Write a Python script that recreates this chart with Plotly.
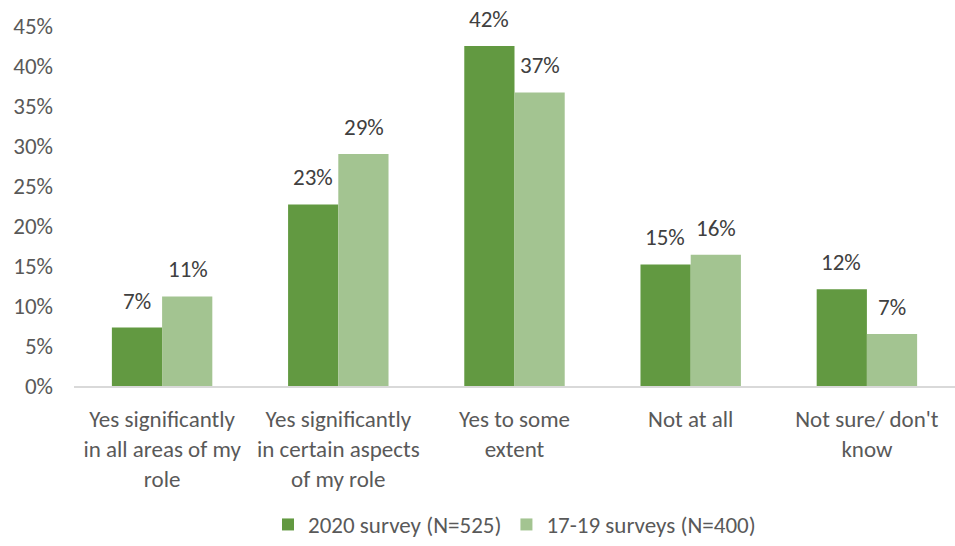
import plotly.graph_objects as go

categories = [
    "Yes significantly<br>in all areas of my<br>role",
    "Yes significantly<br>in certain aspects<br>of my role",
    "Yes to some<br>extent",
    "Not at all",
    "Not sure/ don't<br>know",
]
series_2020 = [0.073, 0.227, 0.425, 0.152, 0.121]
series_1719 = [0.112, 0.290, 0.367, 0.164, 0.065]
labels_2020 = ["7%", "23%", "42%", "15%", "12%"]
labels_1719 = ["11%", "29%", "37%", "16%", "7%"]
name_2020 = "2020 survey (N=525)"
name_1719 = "17-19 surveys (N=400)"
tick_vals = [0, 0.05, 0.10, 0.15, 0.20, 0.25, 0.30, 0.35, 0.40, 0.45]
tick_text = ["0%", "5%", "10%", "15%", "20%", "25%", "30%", "35%", "40%", "45%"]

FONT = "Carlito, Calibri, Lato, sans-serif"
FS = 23

fig = go.Figure()
fig.add_trace(go.Bar(
    x=categories, y=series_2020, name=name_2020,
    marker=dict(color="#629941", line=dict(width=0)),
))
fig.add_trace(go.Bar(
    x=categories, y=series_1719, name=name_1719,
    marker=dict(color="#A3C491", line=dict(width=0)),
))

# value labels above bars, placed through the axis scales
for vals, labs, shift in [(series_2020, labels_2020, -25.5), (series_1719, labels_1719, 25.5)]:
    for c, v, t in zip(categories, vals, labs):
        fig.add_annotation(x=c, y=v, xref="x", yref="y", text=t, showarrow=False,
                           xshift=shift, yshift=11, yanchor="bottom",
                           font=dict(size=FS, color="#404040", family=FONT))

fig.update_layout(
    width=955, height=546,
    margin=dict(l=74, r=0, t=26, b=157),
    paper_bgcolor="white", plot_bgcolor="white",
    barmode="group", bargap=0.43, bargroupgap=0,
    font=dict(family=FONT, size=FS, color="#595959"),
    showlegend=True,
    legend=dict(orientation="h", x=0.5, xanchor="center", y=-0.385, yanchor="middle",
                font=dict(size=FS, color="#595959", family=FONT),
                itemwidth=30, traceorder="normal"),
)
fig.update_yaxes(range=[0, 0.45], tickvals=tick_vals, ticktext=tick_text,
                 showgrid=False, zeroline=False, showline=False,
                 ticklabelstandoff=20, tickfont=dict(size=FS, color="#595959"))
fig.update_xaxes(showline=True, linecolor="#D9D9D9", linewidth=1.5,
                 showgrid=False, ticks="", ticklabelstandoff=12,
                 tickfont=dict(size=FS, color="#595959"))

fig.write_html("out.html")
